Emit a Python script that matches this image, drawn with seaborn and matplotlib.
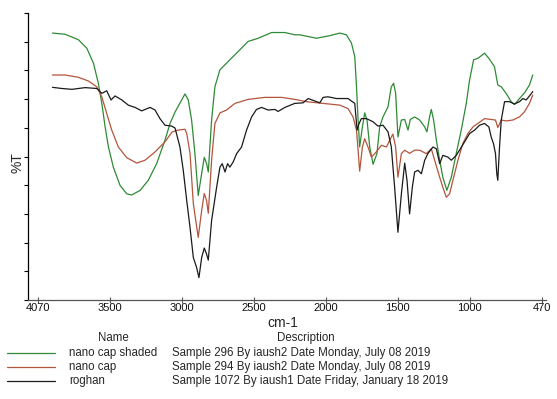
import matplotlib
matplotlib.use("Agg")
import matplotlib.pyplot as plt
from matplotlib.lines import Line2D
import seaborn as sns
import pandas as pd

# ---------------- data ----------------
series_names = ["nano cap shaded", "nano cap", "roghan"]
descriptions = [
    "Sample 296 By iaush2 Date Monday, July 08 2019",
    "Sample 294 By iaush2 Date Monday, July 08 2019",
    "Sample 1072 By iaush1 Date Friday, January 18 2019",
]

green_wn = [3900, 3812, 3720, 3661, 3615, 3581, 3557, 3534, 3511, 3477, 3430, 3384, 3349, 3291,
            3234, 3176, 3118, 3083, 3048, 2979, 2956, 2933, 2910, 2887, 2863, 2845, 2829, 2817,
            2794, 2771, 2736, 2679, 2609, 2540, 2470, 2377, 2285, 2216, 2181, 2065, 1973, 1903,
            1857, 1822, 1799, 1787, 1776, 1765, 1746, 1730, 1714, 1695, 1672, 1645, 1626, 1603,
            1568, 1545, 1529, 1515, 1499, 1475, 1452, 1429, 1413, 1383, 1348, 1313, 1298, 1279,
            1267, 1251, 1232, 1209, 1187, 1159, 1128, 1094, 1059, 1024, 1001, 973, 944, 920, 897,
            867, 828, 805, 781, 747, 712, 689, 654, 619, 585, 562]
green_t = [93.0, 92.6, 90.7, 87.7, 82.5, 75.5, 68.5, 60.3, 53.3, 46.3, 39.9, 37.0, 36.6, 38.2,
           41.7, 47.5, 55.7, 61.5, 65.5, 71.8, 69.7, 62.7, 51.1, 36.4, 44.1, 49.7, 47.6, 44.6,
           62.7, 74.3, 80.2, 83.1, 86.6, 90.1, 91.2, 93.2, 93.2, 92.4, 92.4, 91.2, 92.1, 93.0,
           92.4, 89.5, 84.8, 74.3, 62.7, 53.3, 60.3, 65.2, 62.7, 53.3, 47.3, 51.0, 60.3, 63.8,
           67.3, 74.3, 75.5, 72.0, 56.8, 62.7, 62.9, 59.2, 62.9, 63.8, 62.7, 60.3, 58.6, 63.8,
           66.4, 62.7, 55.7, 48.7, 42.8, 38.2, 42.8, 51.0, 59.2, 68.5, 76.7, 83.7, 84.2, 85.1, 86.0,
           84.2, 81.3, 74.9, 74.3, 72.0, 69.1, 68.1, 70.2, 72.2, 74.9, 78.4]

brown_wn = [3900, 3812, 3720, 3650, 3592, 3557, 3523, 3488, 3442, 3384, 3314, 3257, 3187, 3118,
            3069, 3028, 2979, 2967, 2944, 2921, 2887, 2863, 2845, 2829, 2817, 2794, 2771, 2736,
            2690, 2632, 2540, 2424, 2308, 2216, 2135, 2019, 1903, 1846, 1811, 1787, 1776, 1765,
            1746, 1730, 1707, 1683, 1649, 1614, 1579, 1556, 1534, 1515, 1499, 1475, 1452, 1418,
            1383, 1348, 1302, 1267, 1244, 1209, 1187, 1163, 1140, 1117, 1082, 1048, 1013, 978,
            944, 897, 851, 821, 805, 781, 747, 701, 654, 619, 585, 562]
brown_t = [78.4, 78.4, 77.6, 76.3, 74.3, 70.8, 65.0, 59.2, 53.3, 49.6, 47.7, 48.7, 51.6, 55.1,
           58.5, 59.2, 59.5, 58.1, 51.1, 33.6, 21.8, 31.2, 37.1, 34.7, 30.2, 48.7, 61.5, 65.2,
           66.2, 68.5, 69.9, 70.6, 70.6, 69.9, 69.1, 68.5, 67.9, 66.7, 63.8, 59.2, 52.2, 44.9,
           53.3, 56.2, 53.3, 49.8, 51.6, 53.9, 53.3, 55.7, 57.8, 53.3, 42.8, 51.0, 52.2, 51.1,
           52.2, 52.2, 51.0, 52.7, 48.7, 42.8, 39.3, 35.8, 37.0, 41.7, 48.7, 54.5, 58.0, 60.3,
           61.5, 63.2, 62.9, 62.7, 60.1, 62.7, 62.4, 62.7, 63.8, 65.6, 68.5, 71.4]

black_wn = [3900, 3835, 3765, 3673, 3592, 3557, 3523, 3493, 3465, 3418, 3373, 3326, 3280, 3222,
            3187, 3153, 3118, 3071, 3048, 3014, 2991, 2967, 2944, 2921, 2898, 2882, 2863, 2845,
            2829, 2817, 2794, 2759, 2736, 2720, 2701, 2683, 2667, 2644, 2620, 2586, 2551, 2516,
            2482, 2447, 2401, 2354, 2332, 2285, 2216, 2158, 2123, 2042, 2019, 1985, 1926, 1846,
            1799, 1783, 1769, 1753, 1718, 1672, 1638, 1603, 1568, 1545, 1522, 1499, 1475, 1452,
            1436, 1418, 1399, 1383, 1360, 1336, 1313, 1291, 1256, 1232, 1209, 1187, 1152, 1128,
            1094, 1071, 1036, 1001, 966, 932, 897, 867, 851, 835, 821, 812, 805, 793, 781, 758,
            724, 689, 654, 631, 608, 585, 562]
black_t = [74.1, 73.7, 73.4, 74.0, 73.7, 72.0, 72.9, 69.7, 71.1, 69.7, 67.9, 67.1, 65.9, 67.1,
           66.2, 63.2, 60.9, 60.6, 59.9, 53.3, 45.2, 34.7, 25.3, 14.8, 11.3, 7.8, 14.8, 18.1,
           16.0, 13.9, 27.7, 39.3, 46.3, 47.5, 44.6, 47.5, 46.3, 48.1, 51.0, 53.3, 59.2, 63.8,
           66.4, 67.1, 66.2, 66.4, 65.7, 67.1, 68.5, 68.7, 70.2, 68.7, 70.6, 70.8, 70.2, 70.2,
           68.5, 59.2, 61.5, 63.2, 63.2, 62.1, 60.6, 60.9, 58.6, 53.3, 39.3, 23.6, 37.0, 47.7,
           41.7, 30.0, 39.3, 44.6, 45.2, 44.0, 48.7, 51.0, 53.3, 52.7, 47.5, 50.4, 49.8, 48.7,
           50.4, 52.2, 55.1, 58.0, 59.2, 60.9, 61.5, 60.3, 56.8, 54.5, 51.0, 44.0, 41.7, 53.3,
           62.7, 69.1, 69.1, 68.3, 69.1, 70.2, 69.7, 71.1, 72.6]

x_tick_values = [4000, 3500, 3000, 2500, 2000, 1500, 1000, 500]
x_tick_labels = ["4070", "3500", "3000", "2500", "2000", "1500", "1000", "470"]
y_tick_values = [0, 10, 20, 30, 40, 50, 60, 70, 80, 90, 100]

colors = {"nano cap shaded": "#2f8a36", "nano cap": "#b3553c", "roghan": "#1a1a1a"}

# ---------------- build frame ----------------
frames = []
for name, wn, t in [("nano cap shaded", green_wn, green_t),
                    ("nano cap", brown_wn, brown_t),
                    ("roghan", black_wn, black_t)]:
    frames.append(pd.DataFrame({"wn": wn, "T": t, "name": name}))
df = pd.concat(frames, ignore_index=True)

sns.set_theme(style="white")
plt.rcParams["font.family"] = ["Liberation Sans", "DejaVu Sans"]

fig = plt.figure(figsize=(5.57, 3.99), dpi=100)
ax = fig.add_axes([28 / 557, 1 - 300 / 399, (546 - 28) / 557, (300 - 13) / 399])

sns.lineplot(data=df, x="wn", y="T", hue="name", palette=colors, sort=False,
             estimator=None, linewidth=0.9, legend=False, ax=ax)

ax.set_xlim(4070, 470)
ax.set_ylim(0, 100)
ax.set_xticks(x_tick_values)
ax.set_xticklabels(x_tick_labels, fontsize=8, color="#111111")
ax.set_yticks(y_tick_values)
ax.set_yticklabels([])
ax.tick_params(axis="y", direction="out", length=3, width=0.8, color="black", left=True)
ax.tick_params(axis="x", direction="inout", length=4, width=0.8, color="#555555",
               bottom=True, pad=0.5)
for s in ["top", "right"]:
    ax.spines[s].set_visible(False)
ax.spines["left"].set_color("black")
ax.spines["left"].set_linewidth(0.9)
ax.spines["bottom"].set_color("#555555")
ax.spines["bottom"].set_linewidth(0.9)
ax.set_xlabel("")
ax.set_ylabel("")
ax.grid(False)

fig.text(18 / 557, 1 - 163 / 399, "%T", rotation=90, ha="center", va="center", fontsize=10)
fig.text(283 / 557, 1 - 323 / 399, "cm-1", ha="center", va="center", fontsize=10)

# legend table
fig.text(113 / 557, 1 - 338 / 399, "Name", ha="center", va="center", fontsize=8.3)
fig.text(306 / 557, 1 - 338 / 399, "Description", ha="center", va="center", fontsize=8.3)
row_y = [353, 367, 381]
for name, desc, yy in zip(series_names, descriptions, row_y):
    fy = 1 - yy / 399
    fig.add_artist(Line2D([7 / 557, 55 / 557], [fy, fy], color=colors[name], linewidth=0.9,
                          transform=fig.transFigure))
    fig.text(69 / 557, fy, name, ha="left", va="center", fontsize=8.3)
    fig.text(172 / 557, fy, desc, ha="left", va="center", fontsize=8.3)

fig.savefig("out.png", dpi=100)
